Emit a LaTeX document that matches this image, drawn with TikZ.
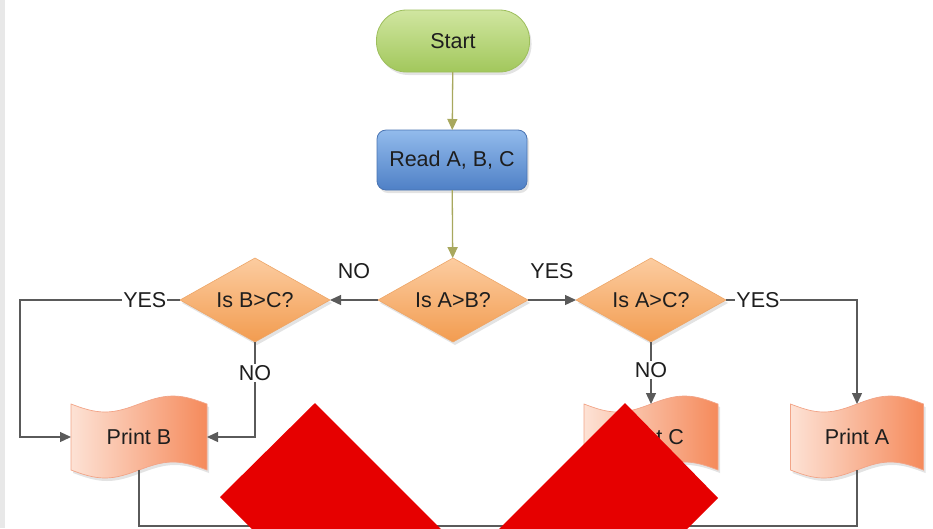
\documentclass[tikz,border=0pt]{standalone}
\usepackage{fontspec}
\setmainfont{Liberation Sans}
\usetikzlibrary{shapes.geometric,arrows.meta,shadows}
\definecolor{linegray}{HTML}{5A5A5A}
\definecolor{olivec}{HTML}{A8A85E}
\definecolor{gtop}{HTML}{D0E6A0}
\definecolor{gbot}{HTML}{A2C75C}
\definecolor{gdraw}{HTML}{9DBE5C}
\definecolor{btop}{HTML}{92BBEC}
\definecolor{bbot}{HTML}{4F80C6}
\definecolor{bdraw}{HTML}{4A74B2}
\definecolor{otop}{HTML}{FCCCA0}
\definecolor{obot}{HTML}{F29C50}
\definecolor{odraw}{HTML}{EDA668}
\definecolor{tleft}{HTML}{FDE2D5}
\definecolor{tright}{HTML}{F58A5B}
\definecolor{tdraw}{HTML}{F2A487}
\definecolor{xred}{RGB}{230,0,0}
\definecolor{txt}{HTML}{1E1E1E}
\newcommand\tapepath[4]{%
  \path[tapestyle] (#1,#3) sin ({#1+(#2-#1)/4},{#3+8}) cos ({(#1+#2)/2},#3)
    sin ({#1+3*(#2-#1)/4},{#3-8}) cos (#2,#3) -- (#2,#4)
    sin ({#1+3*(#2-#1)/4},{#4-8}) cos ({(#1+#2)/2},#4)
    sin ({#1+(#2-#1)/4},{#4+8}) cos (#1,#4) -- cycle;}
\begin{document}
\begin{tikzpicture}[x=1pt,y=-1pt,
  font=\fontsize{21.5}{25}\selectfont, text=txt,
  shad/.style={drop shadow={shadow xshift=2pt,shadow yshift=-3pt,opacity=.22}},
  startbox/.style={shad,rectangle,rounded corners=30pt,minimum width=153pt,minimum height=62pt,
    top color=gtop,bottom color=gbot,draw=gdraw,line width=0.8pt,inner sep=0pt,outer sep=0pt},
  readbox/.style={shad,rectangle,rounded corners=9pt,minimum width=150pt,minimum height=60pt,
    top color=btop,bottom color=bbot,draw=bdraw,line width=0.8pt,inner sep=0pt,outer sep=0pt},
  decbox/.style={shad,diamond,aspect=1.8,minimum width=150pt,minimum height=84pt,
    top color=otop,bottom color=obot,draw=odraw,line width=0.6pt,inner sep=0pt,outer sep=0pt},
  tapestyle/.style={shad,left color=tleft,right color=tright,draw=tdraw,line width=0.7pt},
  tapetext/.style={rectangle,minimum height=66pt,inner sep=0pt,outer sep=0pt},
  arr/.style={draw=linegray,line width=1.3pt,-{Triangle[length=11pt,width=10pt,fill=linegray]}},
  oarr/.style={draw=olivec,line width=1.3pt,-{Triangle[length=11pt,width=10pt,fill=olivec]}},
  plain/.style={draw=linegray,line width=1.3pt},
  lbl/.style={fill=white,inner sep=1pt,text=txt}]
\useasboundingbox (0,0) rectangle (933,528);
\clip (0,0) rectangle (933,528);
\fill[gray!18] (0,0) rectangle (5,528);

% tape shapes
\tapepath{71}{207}{404}{470}
\tapepath{584}{718}{404}{470}
\tapepath{790.5}{923.5}{404}{470}

% nodes
\node[startbox] (start) at (453,41) {Start};
\node[readbox] (read) at (452,160) {Read A, B, C};
\node[decbox] (qAB) at (453,300) {Is A>B?};
\node[decbox] (qBC) at (255,300) {Is B>C?};
\node[decbox] (qAC) at (651,300) {Is A>C?};
\node[tapetext,minimum width=136pt] (pB) at (139,437) {Print B};
\node[tapetext,minimum width=134pt] (pC) at (651,437) {Print C};
\node[tapetext,minimum width=133pt] (pA) at (857,437) {Print A};

\coordinate (cL) at (20,300);
\coordinate (b1) at (139,526);

% connectors
\draw[oarr] (start) -- (read);
\draw[oarr] (read) -- (qAB);
\draw[arr] (qAB.west) -- node[midway,yshift=29pt]{NO} (qBC.east);
\draw[arr] (qAB.east) -- node[midway,yshift=29pt]{YES} (qAC.west);
\draw[arr] (qBC.west) -- node[lbl,pos=0.22]{YES} (cL) |- (pB.west);
\draw[arr] (qBC.south) |- node[lbl,pos=0.163]{NO} (pB.east);
\draw[arr] (qAC.south) -- node[lbl,pos=0.45]{NO} (pC.north);
\draw[arr] (qAC.east) -| node[lbl,pos=0.122]{YES} (pA.north);
\draw[plain] (pB.south) -- (b1) -| (pA.south);

% red overlay
\fill[xred] (315,403) -- (515,603) -- (420,697) -- (220,497) -- cycle;
\fill[xred] (625,403) -- (718,498) -- (518,698) -- (425,603) -- cycle;
\end{tikzpicture}
\end{document}
